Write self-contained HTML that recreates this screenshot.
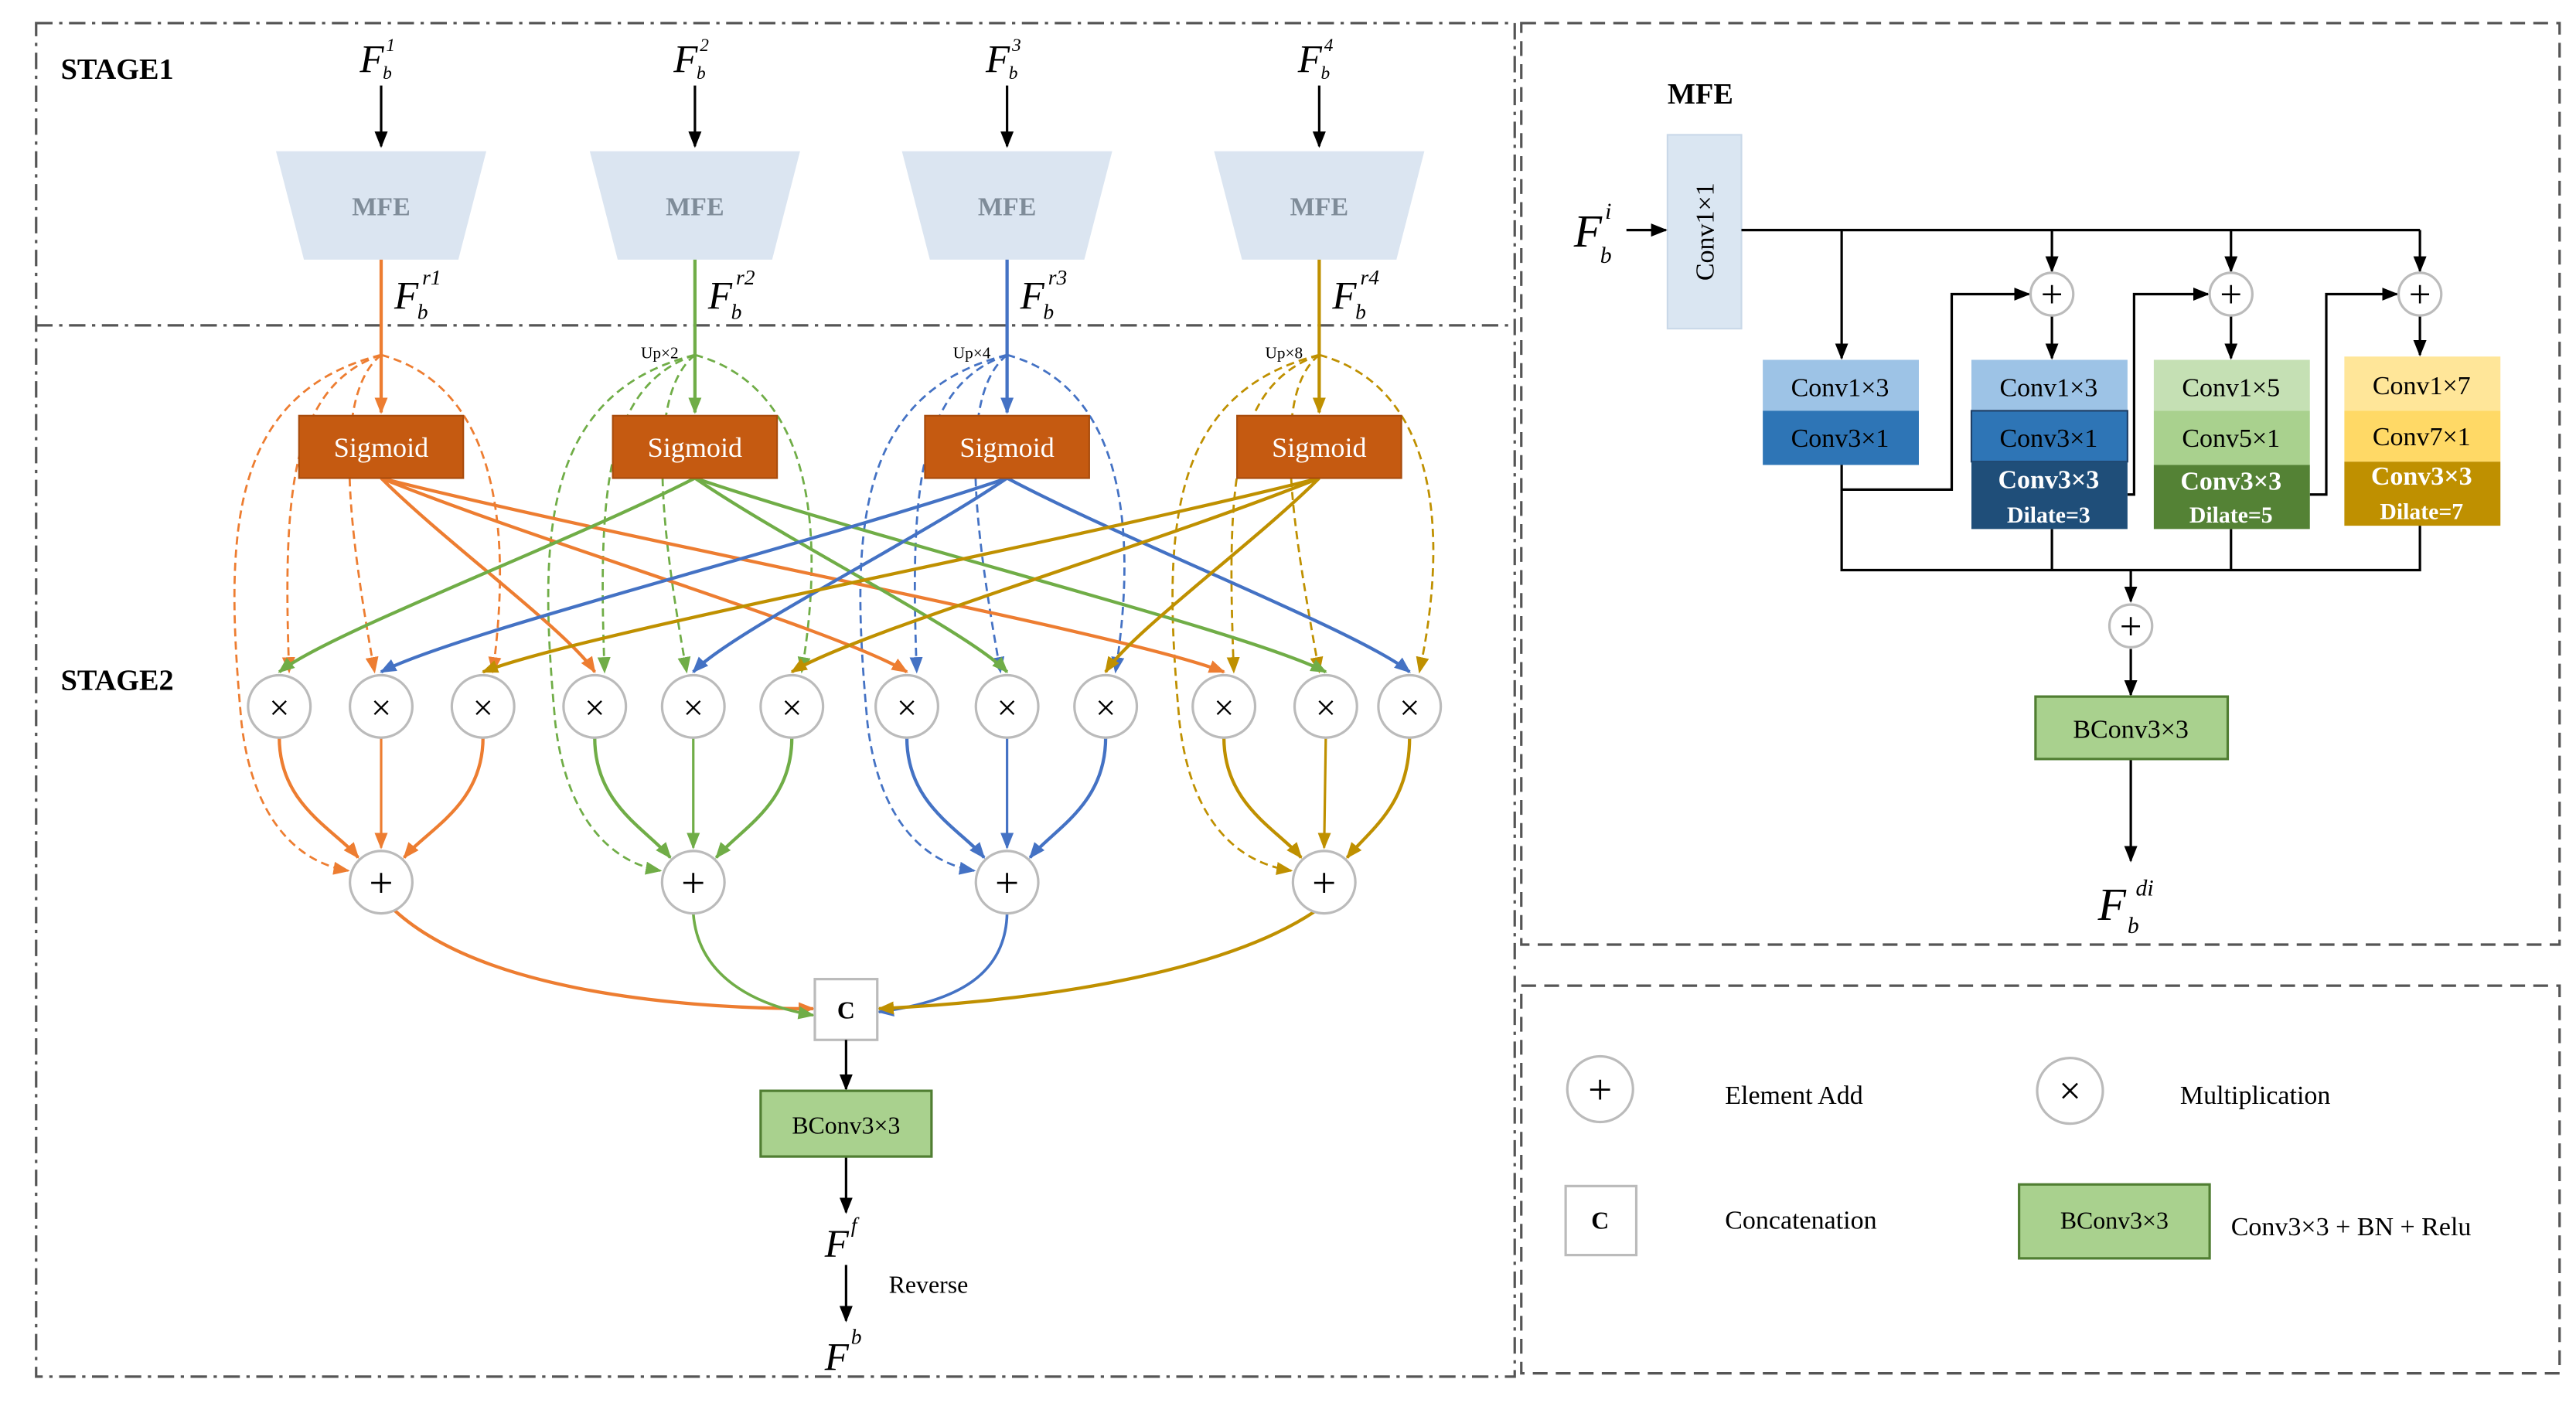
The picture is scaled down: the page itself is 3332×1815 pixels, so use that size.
<!DOCTYPE html>
<html><head><meta charset="utf-8"><style>
html,body{margin:0;padding:0;background:#fff;}
svg{display:block;}
text{font-family:"Liberation Serif",serif;}
</style></head><body>
<svg id="s" width="3332" height="1815" viewBox="0 0 1568 854" xmlns="http://www.w3.org/2000/svg">
<defs>
<marker id="mk" markerWidth="10" markerHeight="10" refX="9" refY="5" orient="auto" markerUnits="userSpaceOnUse"><path d="M0,1 L10,5 L0,9 z" fill="#000"/></marker>
<marker id="mo" markerWidth="10" markerHeight="10" refX="9" refY="5" orient="auto" markerUnits="userSpaceOnUse"><path d="M0,1 L10,5 L0,9 z" fill="#ed7d31"/></marker>
<marker id="mg" markerWidth="10" markerHeight="10" refX="9" refY="5" orient="auto" markerUnits="userSpaceOnUse"><path d="M0,1 L10,5 L0,9 z" fill="#70ad47"/></marker>
<marker id="mb" markerWidth="10" markerHeight="10" refX="9" refY="5" orient="auto" markerUnits="userSpaceOnUse"><path d="M0,1 L10,5 L0,9 z" fill="#4472c4"/></marker>
<marker id="my" markerWidth="10" markerHeight="10" refX="9" refY="5" orient="auto" markerUnits="userSpaceOnUse"><path d="M0,1 L10,5 L0,9 z" fill="#bf9000"/></marker>
</defs>
<rect width="1568" height="854" fill="#fff"/>
<g fill="none" stroke="#555" stroke-width="1.5">
<rect x="22" y="14" width="900" height="824" stroke-dasharray="10 4 2 4"/>
<line x1="22" y1="198" x2="922" y2="198" stroke-dasharray="10 4 2 4"/>
<rect x="926" y="14" width="632" height="561" stroke-dasharray="9 5"/>
<rect x="926" y="600" width="632" height="236" stroke-dasharray="9 5"/>
</g>
<text x="37" y="48" font-size="18" font-weight="bold">STAGE1</text>
<text x="37" y="420" font-size="18" font-weight="bold">STAGE2</text>
<g id="dyn"></g>
<rect x="496" y="596" width="38" height="37" fill="#fff" stroke="#bbb" stroke-width="1.5"/>
<text x="515" y="620" font-size="15" font-weight="bold" text-anchor="middle">C</text>
<g stroke="#000" stroke-width="1.5" fill="none">
<line x1="515" y1="633" x2="515" y2="663" marker-end="url(#mk)"/>
<line x1="515" y1="704" x2="515" y2="738" marker-end="url(#mk)"/>
<line x1="515" y1="770" x2="515" y2="804" marker-end="url(#mk)"/>
</g>
<rect x="463" y="664" width="104" height="40" fill="#a9d18e" stroke="#507e32" stroke-width="1.5"/>
<text x="515" y="690" font-size="15" text-anchor="middle">BConv3×3</text>
<text x="502" y="765" font-size="24" font-style="italic">F</text><text x="518" y="750" font-size="13" font-style="italic">f</text>
<text x="541" y="787" font-size="15">Reverse</text>
<text x="502" y="834" font-size="24" font-style="italic">F</text><text x="518" y="818" font-size="13" font-style="italic">b</text>

<text x="1015" y="63" font-size="18" font-weight="bold">MFE</text>
<rect x="1015" y="82" width="45" height="118" fill="#dae6f2" stroke="#c9d8e8"/>
<text transform="translate(1043,141) rotate(-90)" font-size="16" text-anchor="middle">Conv1×1</text>
<text x="958" y="150" font-size="28" font-style="italic">F</text><text x="977" y="133" font-size="14" font-style="italic">i</text><text x="974" y="160" font-size="14" font-style="italic">b</text>
<g stroke="#000" stroke-width="1.5" fill="none">
<line x1="990" y1="140" x2="1014" y2="140" marker-end="url(#mk)"/>
<line x1="1060" y1="140" x2="1473" y2="140"/>
<line x1="1121" y1="140" x2="1121" y2="218" marker-end="url(#mk)"/>
<line x1="1249" y1="140" x2="1249" y2="165" marker-end="url(#mk)"/>
<line x1="1358" y1="140" x2="1358" y2="165" marker-end="url(#mk)"/>
<line x1="1473" y1="140" x2="1473" y2="165" marker-end="url(#mk)"/>
<line x1="1249" y1="192" x2="1249" y2="218" marker-end="url(#mk)"/>
<line x1="1358" y1="192" x2="1358" y2="218" marker-end="url(#mk)"/>
<line x1="1473" y1="192" x2="1473" y2="216" marker-end="url(#mk)"/>
<polyline points="1121,283 1121,298 1188,298 1188,179 1235,179" marker-end="url(#mk)"/>
<polyline points="1295,301 1299,301 1299,179 1344,179" marker-end="url(#mk)"/>
<polyline points="1406,301 1416,301 1416,179 1459,179" marker-end="url(#mk)"/>
<polyline points="1121,298 1121,347 1473,347 1473,320"/>
<line x1="1249" y1="322" x2="1249" y2="347"/>
<line x1="1358" y1="322" x2="1358" y2="347"/>
<polyline points="1297,347 1297,366" marker-end="url(#mk)"/>
<line x1="1297" y1="395" x2="1297" y2="423" marker-end="url(#mk)"/>
<line x1="1297" y1="462" x2="1297" y2="524" marker-end="url(#mk)"/>
</g>
<g stroke="#bbb" stroke-width="1.5" fill="#fff">
<circle cx="1249" cy="179" r="13"/><circle cx="1358" cy="179" r="13"/><circle cx="1473" cy="179" r="13"/><circle cx="1297" cy="381" r="13"/>
</g>
<g font-size="24" text-anchor="middle" font-family="Liberation Sans">
<text x="1249" y="187">+</text><text x="1358" y="187">+</text><text x="1473" y="187">+</text><text x="1297" y="389">+</text>
</g>
<g font-size="16" text-anchor="middle">
<rect x="1073" y="219" width="95" height="31" fill="#9dc3e6"/><text x="1120" y="241">Conv1×3</text>
<rect x="1073" y="250" width="95" height="33" fill="#2e75b6"/><text x="1120" y="272">Conv3×1</text>
<rect x="1200" y="219" width="95" height="31" fill="#9dc3e6"/><text x="1247" y="241">Conv1×3</text>
<rect x="1200" y="250" width="95" height="31" fill="#2e75b6" stroke="#1f3f66"/><text x="1247" y="272">Conv3×1</text>
<rect x="1200" y="281" width="95" height="41" fill="#1f4e79"/><text x="1247" y="297" fill="#fff" font-weight="bold">Conv3×3</text><text x="1247" y="318" fill="#fff" font-weight="bold" font-family="Liberation Sans" font-size="14">Dilate=3</text>
<rect x="1311" y="219" width="95" height="31" fill="#c5e0b4"/><text x="1358" y="241">Conv1×5</text>
<rect x="1311" y="250" width="95" height="33" fill="#a9d18e"/><text x="1358" y="272">Conv5×1</text>
<rect x="1311" y="283" width="95" height="39" fill="#548235"/><text x="1358" y="298" fill="#fff" font-weight="bold">Conv3×3</text><text x="1358" y="318" fill="#fff" font-weight="bold" font-family="Liberation Sans" font-size="14">Dilate=5</text>
<rect x="1427" y="217" width="95" height="33" fill="#ffe699"/><text x="1474" y="240">Conv1×7</text>
<rect x="1427" y="250" width="95" height="31" fill="#ffd966"/><text x="1474" y="271">Conv7×1</text>
<rect x="1427" y="281" width="95" height="39" fill="#bf9000"/><text x="1474" y="295" fill="#fff" font-weight="bold">Conv3×3</text><text x="1474" y="316" fill="#fff" font-weight="bold" font-family="Liberation Sans" font-size="14">Dilate=7</text>
</g>
<rect x="1239" y="424" width="117" height="38" fill="#a9d18e" stroke="#507e32" stroke-width="1.5"/>
<text x="1297" y="449" font-size="16" text-anchor="middle">BConv3×3</text>
<text x="1277" y="560" font-size="28" font-style="italic">F</text><text x="1300" y="545" font-size="14" font-style="italic">di</text><text x="1295" y="568" font-size="14" font-style="italic">b</text>

<circle cx="974" cy="663" r="20" fill="#fff" stroke="#bbb" stroke-width="1.5"/><text x="974" y="672" font-size="26" text-anchor="middle" font-family="Liberation Sans">+</text>
<text x="1050" y="672" font-size="16">Element Add</text>
<circle cx="1260" cy="664" r="20" fill="#fff" stroke="#bbb" stroke-width="1.5"/><text x="1260" y="672" font-size="24" text-anchor="middle" font-family="Liberation Sans">×</text>
<text x="1327" y="672" font-size="16">Multiplication</text>
<rect x="953" y="722" width="43" height="42" fill="#fff" stroke="#bbb" stroke-width="1.5"/><text x="974" y="748" font-size="15" font-weight="bold" text-anchor="middle">C</text>
<text x="1050" y="748" font-size="16">Concatenation</text>
<rect x="1229" y="721" width="116" height="45" fill="#a9d18e" stroke="#507e32" stroke-width="1.5"/><text x="1287" y="748" font-size="15" text-anchor="middle">BConv3×3</text>
<text x="1358" y="752" font-size="16">Conv3×3 + BN + Relu</text>
</svg>
<script>
var NS="http://www.w3.org/2000/svg",g=document.getElementById("dyn");
function el(t,a,txt){var e=document.createElementNS(NS,t);for(var k in a)e.setAttribute(k,a[k]);if(txt!=null)e.textContent=txt;g.appendChild(e);return e;}
var C=["#ed7d31","#70ad47","#4472c4","#bf9000"],M=["mo","mg","mb","my"];
var cx=[232,423,613,803],pc=[232,422,613,806];
var circ=[[170,232,294],[362,422,482],[552,613,673],[745,807,858]];
var tgt=[[362,552,745],[170,613,807],[232,422,858],[294,482,673]];
var ups=["","Up×2","Up×4","Up×8"];
for(var i=0;i<4;i++){
 var x=cx[i],c=C[i],m="url(#"+M[i]+")";
 el("text",{x:x-13,y:44,"font-size":24,"font-style":"italic"},"F");
 el("text",{x:x+3,y:31,"font-size":11,"font-style":"italic"},String(i+1));
 el("text",{x:x+1,y:48,"font-size":11,"font-style":"italic"},"b");
 el("line",{x1:x,y1:52,x2:x,y2:89,stroke:"#000","stroke-width":1.5,"marker-end":"url(#mk)"});
 el("polygon",{points:(x-64)+",92 "+(x+64)+",92 "+(x+47)+",158 "+(x-47)+",158",fill:"#dbe5f1"});
 el("text",{x:x,y:131,"font-size":16,"font-weight":"bold",fill:"#7f8c99","text-anchor":"middle"},"MFE");
 el("line",{x1:x,y1:158,x2:x,y2:251,stroke:c,"stroke-width":2,"marker-end":m});
 el("text",{x:x+8,y:188,"font-size":24,"font-style":"italic"},"F");
 el("text",{x:x+25,y:173,"font-size":13,"font-style":"italic"},"r"+(i+1));
 el("text",{x:x+22,y:194,"font-size":13,"font-style":"italic"},"b");
 if(ups[i])el("text",{x:x-10,y:218,"font-size":10,"text-anchor":"end",font:"10px Liberation Sans"},ups[i]);
 var gc=circ[i],p=pc[i],ds={fill:"none",stroke:c,"stroke-width":1.3,"stroke-dasharray":"5 3","marker-end":m};
 el("path",Object.assign({d:"M"+x+" 216 C"+(x-55)+" 235 "+(gc[0]+2)+" 300 "+(gc[0]+6)+" 409"},ds));
 el("path",Object.assign({d:"M"+x+" 216 C"+(x-30)+" 240 "+(gc[1]-20)+" 320 "+(gc[1]-4)+" 409"},ds));
 el("path",Object.assign({d:"M"+x+" 216 C"+(x+70)+" 235 "+(x+80)+" 320 "+(gc[2]+6)+" 409"},ds));
 el("path",Object.assign({d:"M"+x+" 216 C"+(x-95)+" 240 "+(x-95)+" 330 "+(x-85)+" 440 C"+(x-78)+" 500 "+(x-50)+" 525 "+(p-20)+" 530"},ds));
}
for(var i=0;i<4;i++){
 var x=cx[i],c=C[i],m="url(#"+M[i]+")";
 for(var j=0;j<3;j++){var t=tgt[i][j],dx=t-x;
  el("path",{d:"M"+x+" 291 C"+(x+dx*0.3)+" 330 "+(t-dx*0.12)+" 385 "+t+" 409",fill:"none",stroke:c,"stroke-width":2,"marker-end":m});}
 var gc=circ[i],p=pc[i];
 el("path",{d:"M"+gc[0]+" 449 C"+gc[0]+" 490 "+(p-28)+" 505 "+(p-14)+" 522",fill:"none",stroke:c,"stroke-width":2,"marker-end":m});
 el("line",{x1:gc[1],y1:449,x2:p,y2:516,stroke:c,"stroke-width":1.5,"marker-end":m});
 el("path",{d:"M"+gc[2]+" 449 C"+gc[2]+" 490 "+(p+28)+" 505 "+(p+14)+" 522",fill:"none",stroke:c,"stroke-width":2,"marker-end":m});
}
el("path",{d:"M240 554 C290 600 400 614 495 614",fill:"none",stroke:C[0],"stroke-width":2,"marker-end":"url(#mo)"});
el("path",{d:"M422 556 C425 595 460 612 495 618",fill:"none",stroke:C[1],"stroke-width":1.7,"marker-end":"url(#mg)"});
el("path",{d:"M613 556 C612 595 580 610 535 616",fill:"none",stroke:C[2],"stroke-width":1.7,"marker-end":"url(#mb)"});
el("path",{d:"M800 555 C740 595 620 610 535 614",fill:"none",stroke:C[3],"stroke-width":2,"marker-end":"url(#my)"});
for(var i=0;i<4;i++){var x=cx[i];
 el("rect",{x:x-50,y:253,width:100,height:38,fill:"#c55a11",stroke:"#a84b0c"});
 el("text",{x:x,y:278,"font-size":17,fill:"#fff","text-anchor":"middle"},"Sigmoid");
 for(var j=0;j<3;j++){var cc=circ[i][j];
  el("circle",{cx:cc,cy:430,r:19,fill:"#fff",stroke:"#bbb","stroke-width":1.5});
  el("text",{x:cc,y:438,"font-size":22,"text-anchor":"middle","font-family":"Liberation Sans"},"×");}
 el("circle",{cx:pc[i],cy:537,r:19,fill:"#fff",stroke:"#bbb","stroke-width":1.5});
 el("text",{x:pc[i],y:546,"font-size":26,"text-anchor":"middle","font-family":"Liberation Sans"},"+");
}
</script>
</body></html>
